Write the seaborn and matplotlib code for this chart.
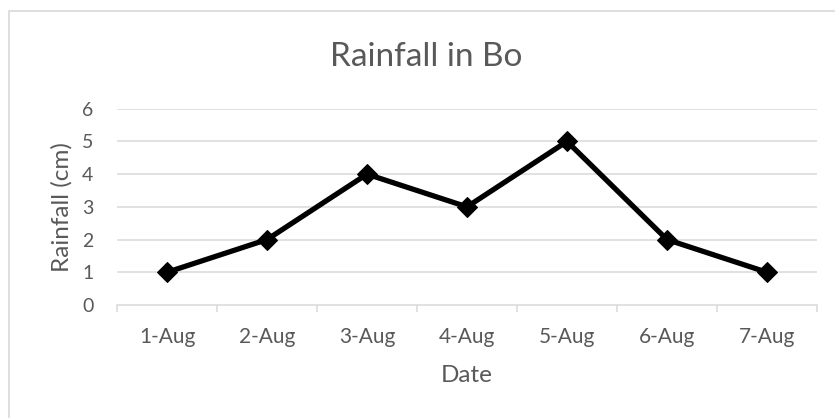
import matplotlib
matplotlib.use("Agg")
import matplotlib.pyplot as plt
import matplotlib.patches as mpatches
import seaborn as sns
import pandas as pd

dates = ["1-Aug", "2-Aug", "3-Aug", "4-Aug", "5-Aug", "6-Aug", "7-Aug"]
rainfall = [1, 2, 4, 3, 5, 2, 1]
y_ticks = [0, 1, 2, 3, 4, 5, 6]

sns.set_theme(style="white")
plt.rcParams["font.family"] = ["Lato", "DejaVu Sans"]

text_color = "#595959"
grid_color = "#d9d9d9"

df = pd.DataFrame({"Date": dates, "Rainfall": rainfall})

fig = plt.figure(figsize=(8.35, 4.18), dpi=100)
ax = fig.add_axes([117 / 835, 1 - 305 / 418, 700 / 835, (305 - 108.7) / 418])

# outer chart frame
fig.patches.append(mpatches.Rectangle((8.5 / 835, -0.1), 1.2, 1 - 10.5 / 418 + 0.1,
                                      transform=fig.transFigure, fill=False,
                                      edgecolor=grid_color, linewidth=1.2))

x_pos = list(range(len(dates)))
sns.lineplot(x=x_pos, y=df["Rainfall"], ax=ax, color="black", linewidth=3.8,
             marker="D", markersize=10.5, markeredgecolor="black", zorder=3)

ax.set_xlim(-0.5, len(dates) - 0.5)
ax.set_ylim(0, 6)
ax.set_yticks(y_ticks)
ax.set_yticklabels([str(v) for v in y_ticks])
ax.set_xticks(x_pos)
ax.set_xticklabels(dates)

for v in y_ticks[1:]:
    ax.axhline(v, color=grid_color, linewidth=1.1, zorder=1)

for s in ["top", "right", "left"]:
    ax.spines[s].set_visible(False)
ax.spines["bottom"].set_color(grid_color)
ax.spines["bottom"].set_linewidth(1.1)

# category boundary ticks on the x axis
ax.set_xticks([i - 0.5 for i in range(len(dates) + 1)], minor=True)
ax.tick_params(axis="x", which="minor", length=5, width=1.1, color=grid_color, direction="out", bottom=True)
ax.tick_params(axis="x", which="major", length=0, pad=16, labelsize=15, labelcolor=text_color)
ax.tick_params(axis="y", length=0, pad=17, labelsize=14, labelcolor=text_color)

ax.set_xlabel("Date", fontsize=17.5, color=text_color, labelpad=13)
ax.set_ylabel("Rainfall (cm)", fontsize=17.5, color=text_color, labelpad=7)
fig.text(426 / 835, 1 - 66 / 418, "Rainfall in Bo", ha="center", va="baseline",
         fontsize=24, color=text_color)

fig.savefig("out.png", dpi=100)
